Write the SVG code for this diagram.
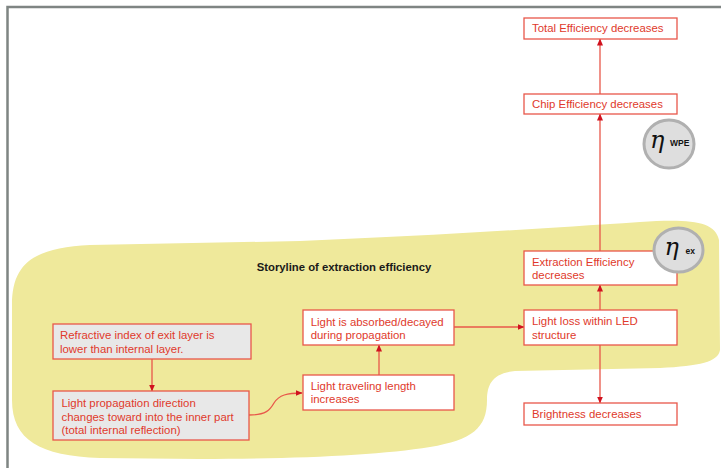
<svg xmlns="http://www.w3.org/2000/svg" width="721" height="468" viewBox="0 0 721 468">
<defs>
<style>
.box{fill:#ffffff;stroke:#e8574a;stroke-width:1.3}
.gbox{fill:#e8e8e8;stroke:#e8574a;stroke-width:1.3}
.t{font-family:"Liberation Sans",Arial,sans-serif;font-size:11.4px;fill:#e0392b}
.con{fill:none;stroke:#e8574a;stroke-width:1.3}
.eta{fill:#dedede;stroke:#b0b0b0;stroke-width:3}
.g{font-family:"DejaVu Serif","Liberation Serif",serif;font-style:italic;font-size:24px;fill:#111}
.sub{font-family:"Liberation Sans",Arial,sans-serif;font-weight:bold;font-size:8.5px;fill:#111}
</style>
<marker id="ah" markerUnits="userSpaceOnUse" markerWidth="7" markerHeight="7" viewBox="0 0 7 7" refX="6.5" refY="3.5" orient="auto">
<path d="M0,0.5 L7,3.5 L0,6.5 Z" fill="#d0121f"/>
</marker>
</defs>
<rect width="721" height="468" fill="#ffffff"/>
<path d="M7.5,468 V7 H721" fill="none" stroke="#7f8583" stroke-width="2.5"/>
<path id="blob" d="M12,305 C12,262 35,248 90,245 L300,241 C420,236 520,230 640,222 C690,219 715,221 719,240 L720,350 C718,362 700,366 660,368 L515,371 C492,373 487,385 487,400 C487,428 472,440 430,447 C380,455 300,459 200,459 L100,458 C40,456 12,440 12,400 Z" fill="#efe99b"/>
<text x="256.7" y="271" font-family="Liberation Sans,Arial,sans-serif" font-weight="bold" font-size="11.3" fill="#1a1a1a">Storyline of extraction efficiency</text>
<g id="connectors">
<line class="con" x1="600" y1="94" x2="600" y2="39" marker-end="url(#ah)"/>
<line class="con" x1="600" y1="251" x2="600" y2="114" marker-end="url(#ah)"/>
<line class="con" x1="600" y1="310" x2="600" y2="285" marker-end="url(#ah)"/>
<line class="con" x1="600" y1="345" x2="600" y2="403" marker-end="url(#ah)"/>
<line class="con" x1="454" y1="327" x2="524" y2="327" marker-end="url(#ah)"/>
<line class="con" x1="379" y1="375" x2="379" y2="345" marker-end="url(#ah)"/>
<line class="con" x1="152" y1="359" x2="152" y2="391" marker-end="url(#ah)"/>
<path class="con" d="M249,415 C266,415 270,410 274,403 C279,395 287,393 302,393" marker-end="url(#ah)"/>
</g>
<g id="total"><rect class="box" x="524" y="18" width="153" height="21"/><text class="t" x="532" y="32">Total Efficiency decreases</text></g>
<g id="chip"><rect class="box" x="524" y="94" width="153" height="20"/><text class="t" x="532" y="108.3">Chip Efficiency decreases</text></g>
<g id="extraction"><rect class="box" x="524" y="251" width="153" height="34"/><text class="t" x="532" y="265.7">Extraction Efficiency</text><text class="t" x="532" y="279.3">decreases</text></g>
<g id="lightloss"><rect class="box" x="524" y="310" width="153" height="35"/><text class="t" x="532" y="325">Light loss within LED</text><text class="t" x="532" y="338.5">structure</text></g>
<g id="brightness"><rect class="box" x="524" y="403" width="153" height="22"/><text class="t" x="532" y="418.3">Brightness decreases</text></g>
<g id="refractive"><rect class="gbox" x="53" y="324" width="198" height="35"/><text class="t" x="60" y="339">Refractive index of exit layer is</text><text class="t" x="60" y="352.5">lower than internal layer.</text></g>
<g id="propagation"><rect class="gbox" x="53" y="391" width="196" height="49"/><text class="t" x="61.5" y="406.7">Light propagation direction</text><text class="t" x="61.5" y="420.5">changes toward into the inner part</text><text class="t" x="61.5" y="434">(total internal reflection)</text></g>
<g id="absorbed"><rect class="box" x="303" y="310" width="151" height="35"/><text class="t" x="310.7" y="325.7">Light is absorbed/decayed</text><text class="t" x="310.7" y="338.5">during propagation</text></g>
<g id="traveling"><rect class="box" x="303" y="375" width="151" height="35"/><text class="t" x="310.7" y="390">Light traveling length</text><text class="t" x="310.7" y="403.3">increases</text></g>
<g id="eta-wpe"><ellipse class="eta" cx="669" cy="144" rx="25" ry="24"/><text class="g" x="650" y="148">η</text><text class="sub" x="670" y="146">WPE</text></g>
<g id="eta-ex"><ellipse class="eta" cx="678.5" cy="250" rx="24.5" ry="22"/><text class="g" x="664.5" y="255">η</text><text class="sub" x="685.5" y="254">ex</text></g>
</svg>
